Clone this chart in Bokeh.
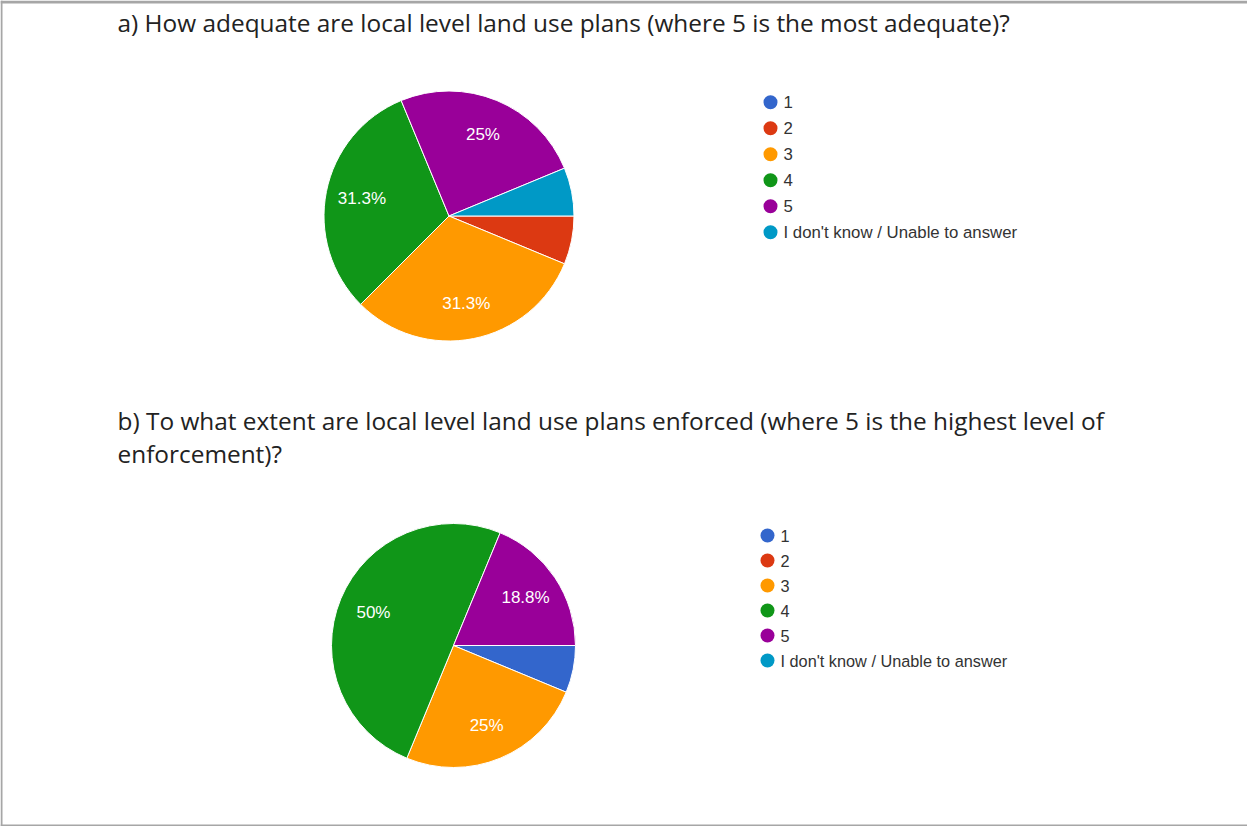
import math
from bokeh.plotting import figure
from bokeh.models import Range1d, ColumnDataSource
from bokeh.core.properties import value
from bokeh.embed import file_html
from bokeh.resources import INLINE

# ---- data ----
categories = ["1", "2", "3", "4", "5", "I don't know / Unable to answer"]
counts_a = [0, 1, 5, 5, 4, 1]
counts_b = [1, 0, 4, 8, 3, 0]
colors = ["#3366cc", "#dc3912", "#ff9900", "#109618", "#990099", "#0099c6"]
title_a = "a) How adequate are local level land use plans (where 5 is the most adequate)?"
title_b_lines = ["b) To what extent are local level land use plans enforced (where 5 is the highest level of",
                 "enforcement)?"]

W, H = 1247, 826
p = figure(width=W, height=H, x_range=Range1d(0, W), y_range=Range1d(0, H),
           output_backend="svg", toolbar_location=None, min_border=0,
           x_axis_location=None, y_axis_location=None)
p.grid.visible = False
p.outline_line_color = None
p.background_fill_color = "white"
p.border_fill_color = "white"

def Y(y):
    return H - y

TITLE_FONT = value("Open Sans")
LBL_FONT = value("Liberation Sans")

def fmt(pct):
    v = math.floor(pct * 10 + 0.5) / 10
    s = ("%.1f" % v).rstrip("0").rstrip(".")
    return s + "%"

def draw_pie(counts, cx, cy, r, leg_x, leg_y, leg_step, lbl_font):
    total = float(sum(counts))
    xs, ys, sa, ea, cols = [], [], [], [], []
    lx, ly, lt = [], [], []
    cum = 0.0
    for c, col in zip(counts, colors):
        f = c / total
        if f > 0:
            xs.append(cx); ys.append(Y(cy))
            sa.append(-(cum + f) * 2 * math.pi)
            ea.append(-cum * 2 * math.pi)
            cols.append(col)
            if f >= 0.1:
                mid = (cum + f / 2) * 2 * math.pi
                lx.append(cx + 0.71 * r * math.cos(mid))
                ly.append(Y(cy + 0.71 * r * math.sin(mid)))
                lt.append(fmt(f * 100))
        cum += f
    src = ColumnDataSource(dict(x=xs, y=ys, s=sa, e=ea, c=cols))
    p.wedge(x="x", y="y", radius=r, start_angle="s", end_angle="e",
            fill_color="c", line_color="white", line_width=1, source=src)
    p.text(x=lx, y=ly, text=lt, text_color="white", text_font=LBL_FONT,
           text_font_size="17px", text_align="center", text_baseline="middle")
    # legend
    ly2 = [Y(leg_y + i * leg_step) for i in range(len(categories))]
    p.scatter(x=[leg_x] * len(categories), y=ly2, size=14, marker="circle",
              fill_color=colors, line_color=None)
    p.text(x=[leg_x + 13] * len(categories), y=ly2, text=categories,
           text_color="#333333", text_font=LBL_FONT, text_font_size=lbl_font,
           text_align="left", text_baseline="middle")

# titles
p.text(x=[117], y=[Y(22)], text=[title_a], text_font=TITLE_FONT,
       text_font_size="24.4px", text_color="#222222", text_baseline="middle")
p.text(x=[117, 117], y=[Y(420), Y(453)], text=title_b_lines, text_font=TITLE_FONT,
       text_font_size="24.4px", text_color="#222222", text_baseline="middle")

draw_pie(counts_a, 448.5, 215.5, 125, 770, 101.7, 26, "16.8px")
draw_pie(counts_b, 453, 645, 122, 767, 535, 25, "16.3px")

# frame border (top, left, bottom) as quads
border = "#a6a6a6"
p.quad(left=[0, 0, 0], right=[W, 2, W], top=[H, H, 2], bottom=[H - 3, 0, 0],
       fill_color=border, line_color=None)

open("out.html", "w").write(file_html(p, INLINE))
